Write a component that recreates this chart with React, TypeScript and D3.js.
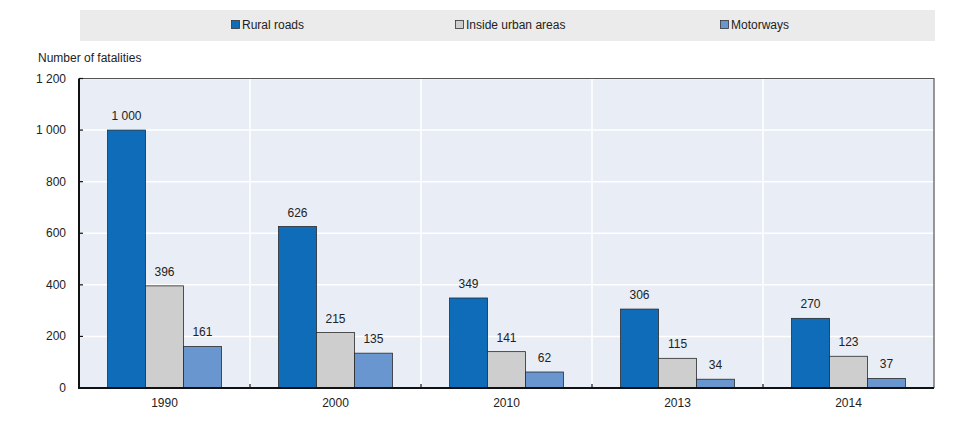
import * as d3 from "d3";
import { useEffect, useRef } from "react";

const YEARS = ["1990", "2000", "2010", "2013", "2014"];
const SERIES = ["Rural roads", "Inside urban areas", "Motorways"];
const RURAL = [1000, 626, 349, 306, 270];
const URBAN = [396, 215, 141, 115, 123];
const MOTORWAYS = [161, 135, 62, 34, 37];
const Y_TICKS = [0, 200, 400, 600, 800, 1000, 1200];
const COLORS = ["#0e6cb8", "#cecece", "#6a96cf"];

const W = 966;
const H = 430;
const FONT = "'Liberation Sans', Arial, sans-serif";

export default function App() {
	const svgRef = useRef<SVGSVGElement>(null);

	useEffect(() => {
		if (!svgRef.current) return;
		const svg = d3.select(svgRef.current);
		svg.selectAll("*").remove();

		const left = 79;
		const right = 934;
		const top = 78.5;
		const bottom = 388;

		const x = d3.scaleBand<string>().domain(YEARS).range([left, right]).padding(0);
		const inner = d3
			.scaleBand<string>()
			.domain(SERIES)
			.range([x.bandwidth() * 0.167, x.bandwidth() * 0.833])
			.padding(0);
		const y = d3.scaleLinear().domain([0, 1200]).range([bottom, top]);

		const values = [RURAL, URBAN, MOTORWAYS];
		const fmt = (v: number) => d3.format(",")(v).replace(/,/g, " ");

		// legend
		svg
			.append("rect")
			.attr("x", 80)
			.attr("y", 10)
			.attr("width", 855)
			.attr("height", 31)
			.attr("fill", "#ebebeb");
		const legendX = [231, 455, 720];
		SERIES.forEach((s, i) => {
			svg
				.append("rect")
				.attr("x", legendX[i] + 0.5)
				.attr("y", 20.5)
				.attr("width", 8)
				.attr("height", 8)
				.attr("fill", COLORS[i])
				.attr("stroke", "#333")
				.attr("stroke-width", 0.8);
			svg
				.append("text")
				.attr("x", legendX[i] + 11)
				.attr("y", 29)
				.attr("font-family", FONT)
				.attr("font-size", 12)
				.attr("fill", "#222")
				.text(s);
		});

		// plot background
		svg
			.append("rect")
			.attr("x", left)
			.attr("y", top)
			.attr("width", right - left)
			.attr("height", bottom - top)
			.attr("fill", "#e9edf6");

		// gridlines
		svg
			.append("g")
			.selectAll("line")
			.data(Y_TICKS.slice(1))
			.enter()
			.append("line")
			.attr("x1", left)
			.attr("x2", right)
			.attr("y1", (d) => y(d))
			.attr("y2", (d) => y(d))
			.attr("stroke", "#fff")
			.attr("stroke-width", 1.5);
		svg
			.append("g")
			.selectAll("line")
			.data(YEARS.slice(1))
			.enter()
			.append("line")
			.attr("x1", (d) => x(d)!)
			.attr("x2", (d) => x(d)!)
			.attr("y1", top)
			.attr("y2", bottom)
			.attr("stroke", "#fff")
			.attr("stroke-width", 1.5);

		// bars
		SERIES.forEach((s, si) => {
			const g = svg.append("g");
			g.selectAll("rect")
				.data(YEARS)
				.enter()
				.append("rect")
				.attr("x", (d) => x(d)! + inner(s)!)
				.attr("y", (_, i) => y(values[si][i]))
				.attr("width", inner.bandwidth())
				.attr("height", (_, i) => bottom - y(values[si][i]))
				.attr("fill", COLORS[si])
				.attr("stroke", "#2a2a2a")
				.attr("stroke-width", 0.8);
			g.selectAll("text")
				.data(YEARS)
				.enter()
				.append("text")
				.attr("x", (d) => x(d)! + inner(s)! + inner.bandwidth() / 2)
				.attr("y", (_, i) => y(values[si][i]) - 10)
				.attr("text-anchor", "middle")
				.attr("font-family", FONT)
				.attr("font-size", 12)
				.attr("fill", "#222")
				.text((_, i) => fmt(values[si][i]));
		});

		// frame
		svg
			.append("path")
			.attr("d", `M${left},${top}H${right}V${bottom}`)
			.attr("fill", "none")
			.attr("stroke", "#555")
			.attr("stroke-width", 1.2);
		svg
			.append("path")
			.attr("d", `M${left},${top}V${bottom}H${right}`)
			.attr("fill", "none")
			.attr("stroke", "#111")
			.attr("stroke-width", 2);

		// y ticks
		const yAxis = svg.append("g");
		yAxis
			.selectAll("line")
			.data(Y_TICKS)
			.enter()
			.append("line")
			.attr("x1", left)
			.attr("x2", left + 4)
			.attr("y1", (d) => y(d))
			.attr("y2", (d) => y(d))
			.attr("stroke", "#111")
			.attr("stroke-width", 1.2);
		yAxis
			.selectAll("text")
			.data(Y_TICKS)
			.enter()
			.append("text")
			.attr("x", 66)
			.attr("y", (d) => y(d) + 4)
			.attr("text-anchor", "end")
			.attr("font-family", FONT)
			.attr("font-size", 12)
			.attr("fill", "#222")
			.text((d) => fmt(d));

		// x ticks
		const xAxis = svg.append("g");
		xAxis
			.selectAll("line")
			.data(YEARS.slice(1))
			.enter()
			.append("line")
			.attr("x1", (d) => x(d)!)
			.attr("x2", (d) => x(d)!)
			.attr("y1", bottom)
			.attr("y2", bottom - 4)
			.attr("stroke", "#111")
			.attr("stroke-width", 1.2);
		xAxis
			.selectAll("text")
			.data(YEARS)
			.enter()
			.append("text")
			.attr("x", (d) => x(d)! + x.bandwidth() / 2)
			.attr("y", 407)
			.attr("text-anchor", "middle")
			.attr("font-family", FONT)
			.attr("font-size", 12)
			.attr("fill", "#222")
			.text((d) => d);

		svg
			.append("text")
			.attr("x", 38)
			.attr("y", 62)
			.attr("font-family", FONT)
			.attr("font-size", 12)
			.attr("fill", "#222")
			.text("Number of fatalities");
	}, []);

	return (
		<svg
			ref={svgRef}
			width={W}
			height={H}
			style={{ position: "absolute", left: 0, top: 0, background: "#fff" }}
		/>
	);
}
